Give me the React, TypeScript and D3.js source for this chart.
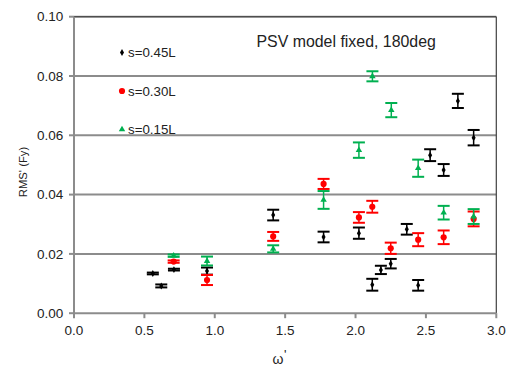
import React from "react";
import * as d3 from "d3";

const xTicks = [0.0, 0.5, 1.0, 1.5, 2.0, 2.5, 3.0];
const yTicks = [0.0, 0.02, 0.04, 0.06, 0.08, 0.1];

// s=0.45L
const blackX = [0.56, 0.62, 0.71, 0.945, 1.415, 1.773, 2.024, 2.119, 2.18, 2.25, 2.364, 2.445, 2.53, 2.626, 2.727, 2.839];
const blackY = [0.0134, 0.0092, 0.0147, 0.0142, 0.0331, 0.0257, 0.027, 0.0096, 0.0146, 0.0167, 0.0283, 0.0094, 0.0533, 0.0483, 0.0716, 0.0592];
const blackE = [0.0003, 0.0005, 0.0003, 0.0012, 0.0018, 0.0018, 0.0019, 0.002, 0.0014, 0.0016, 0.0018, 0.0018, 0.002, 0.002, 0.0024, 0.0026];

// s=0.30L
const redX = [0.708, 0.945, 1.415, 1.773, 2.024, 2.119, 2.25, 2.445, 2.626, 2.839];
const redY = [0.0174, 0.0112, 0.0259, 0.0436, 0.0323, 0.0359, 0.0219, 0.0248, 0.0256, 0.0318];
const redE = [0.0004, 0.0017, 0.0015, 0.0017, 0.0018, 0.002, 0.0019, 0.0022, 0.0023, 0.0025];

// s=0.15L
const greenX = [0.708, 0.945, 1.415, 1.773, 2.024, 2.12, 2.254, 2.445, 2.626, 2.839];
const greenY = [0.0194, 0.0176, 0.0217, 0.0382, 0.055, 0.0799, 0.0685, 0.0489, 0.0339, 0.0326];
const greenE = [0.0004, 0.0015, 0.0012, 0.003, 0.0026, 0.0017, 0.0024, 0.0029, 0.0023, 0.0025];

const seriesNames = ["s=0.45L", "s=0.30L", "s=0.15L"];
const title = "PSV model fixed, 180deg";
const yLabel = "RMS' (Fy)";
const xLabelMain = "ω";
const xLabelPrime = "'";

const FONT = "Liberation Sans, Arial, sans-serif";

export default function App() {
  const W = 507, H = 365;
  const x = d3.scaleLinear().domain([0, 3]).range([74, 496.3]);
  const y = d3.scaleLinear().domain([0, 0.1]).range([313.2, 16.7]);
  const colors = ["#000000", "#ff0000", "#00b050"];
  const series = [
    { xs: blackX, ys: blackY, es: blackE, c: colors[0], shape: "diamond" },
    { xs: redX, ys: redY, es: redE, c: colors[1], shape: "circle" },
    { xs: greenX, ys: greenY, es: greenE, c: colors[2], shape: "triangle" },
  ];
  const sym = (shape: string, size: number) =>
    d3.symbol().type(shape === "diamond" ? d3.symbolDiamond : shape === "circle" ? d3.symbolCircle : d3.symbolTriangle).size(size)() as string;
  const sizes: Record<string, number> = { diamond: 14, circle: 30, triangle: 18 };
  const cap = 6;
  const [x0, x1] = x.range();
  const [y0, y1] = y.range();

  return (
    <svg width={W} height={H} style={{ position: "absolute", left: 0, top: 0, background: "#fff" }}>
      <rect x={0} y={0} width={W} height={H} fill="#fff" />
      {yTicks.slice(1).map((t) => (
        <line key={t} x1={x0} x2={x1} y1={y(t)} y2={y(t)} stroke="#8c8c8c" strokeWidth={2} />
      ))}
      {/* frame top and right */}
      <line x1={x0} x2={x1} y1={y1} y2={y1} stroke="#404040" strokeWidth={1} />
      <line x1={x1} x2={x1} y1={y1} y2={y0} stroke="#404040" strokeWidth={1.2} />
      {/* axes */}
      <line x1={x0} x2={x0} y1={y1} y2={y0} stroke="#8c8c8c" strokeWidth={2} />
      <line x1={x0 - 1} x2={x1} y1={y0} y2={y0} stroke="#8c8c8c" strokeWidth={2} />
      {yTicks.map((t) => (
        <g key={t}>
          <line x1={x0 - 5} x2={x0} y1={y(t)} y2={y(t)} stroke="#8c8c8c" strokeWidth={2} />
          <text x={63.3} y={y(t)} dy="0.35em" textAnchor="end" fontFamily={FONT} fontSize={13.5} fill="#222">
            {d3.format(".2f")(t)}
          </text>
        </g>
      ))}
      {xTicks.map((t) => (
        <g key={t}>
          <line x1={x(t)} x2={x(t)} y1={y0} y2={y0 + 5} stroke="#8c8c8c" strokeWidth={2} />
          <text x={x(t)} y={y0 + 22} textAnchor="middle" fontFamily={FONT} fontSize={13.5} fill="#222">
            {d3.format(".1f")(t)}
          </text>
        </g>
      ))}
      <text
        transform={`translate(27, 172) rotate(-90)`}
        textAnchor="middle"
        fontFamily={FONT}
        fontSize={11.3}
        fill="#222"
      >
        {yLabel}
      </text>
      <text x={272.5} y={363.5} fontFamily={FONT} fontSize={14} fill="#222">
        {xLabelMain}
        <tspan dx={0.5} dy={-4.5} fontSize={13}>{xLabelPrime}</tspan>
      </text>
      <text x={256.5} y={46.7} fontFamily={FONT} fontSize={15.9} fill="#222">
        {title}
      </text>
      {/* legend */}
      {series.map((s, i) => {
        const ly = [52.5, 91, 129.5][i];
        return (
          <g key={i}>
            <path d={sym(s.shape, sizes[s.shape])} transform={`translate(122, ${ly})`} fill={s.c} />
            <text x={128} y={ly} dy="0.35em" fontFamily={FONT} fontSize={13.3} fill="#222">
              {seriesNames[i]}
            </text>
          </g>
        );
      })}
      {/* data */}
      {series.map((s, i) => (
        <g key={i}>
          {s.xs.map((xv, j) => {
            const cx = x(xv);
            const cy = y(s.ys[j]);
            const top = y(s.ys[j] + s.es[j]);
            const bot = y(s.ys[j] - s.es[j]);
            return (
              <g key={j}>
                <line x1={cx} x2={cx} y1={top} y2={bot} stroke={s.c} strokeWidth={1.5} />
                <line x1={cx - cap} x2={cx + cap} y1={top} y2={top} stroke={s.c} strokeWidth={2} />
                <line x1={cx - cap} x2={cx + cap} y1={bot} y2={bot} stroke={s.c} strokeWidth={2} />
                <path d={sym(s.shape, sizes[s.shape])} transform={`translate(${cx}, ${cy})`} fill={s.c} />
              </g>
            );
          })}
        </g>
      ))}
    </svg>
  );
}
